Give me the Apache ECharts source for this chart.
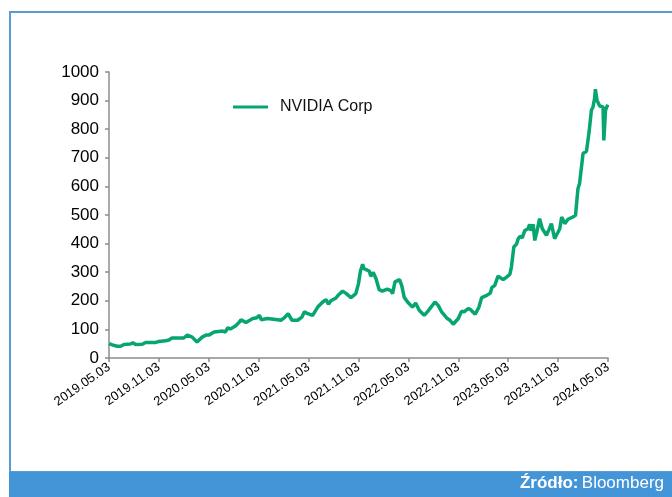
<!DOCTYPE html>
<html>
<head>
<meta charset="utf-8">
<script src="https://cdn.jsdelivr.net/npm/echarts@6/dist/echarts.min.js"></script>
<style>
html,body{margin:0;padding:0;background:#fff;}
#chart{width:672px;height:497px;}
</style>
</head>
<body>
<div id="chart"></div>
<script>
// ---- data ----
var seriesName = 'NVIDIA Corp';
var startDate = '2019-05-03';
var dates = [
 '2019-05-03','2019-05-18','2019-06-03','2019-06-15','2019-06-27','2019-07-21','2019-07-30','2019-08-09','2019-09-03','2019-09-15',
 '2019-10-03','2019-10-21','2019-11-03','2019-11-27','2019-12-09','2019-12-21','2020-01-12','2020-02-03','2020-02-15','2020-03-03',
 '2020-03-21','2020-04-09','2020-04-23','2020-05-03','2020-05-23','2020-06-23','2020-07-03','2020-07-12','2020-07-21','2020-08-12',
 '2020-08-24','2020-08-30','2020-09-17','2020-10-12','2020-10-27','2020-11-06','2020-11-12','2020-12-04','2020-12-09','2021-01-12',
 '2021-01-24','2021-02-06','2021-02-18','2021-03-03','2021-03-24','2021-04-09','2021-04-18','2021-04-30','2021-05-18','2021-06-06',
 '2021-06-24','2021-07-06','2021-07-15','2021-07-24','2021-08-12','2021-08-24','2021-09-06','2021-09-18','2021-10-06','2021-10-24',
 '2021-11-03','2021-11-10','2021-11-18','2021-11-22','2021-12-12','2021-12-18','2021-12-27','2022-01-06','2022-01-18','2022-01-30',
 '2022-02-16','2022-02-28','2022-03-06','2022-03-15','2022-04-01','2022-04-09','2022-04-18','2022-04-30','2022-05-18','2022-05-30',
 '2022-06-12','2022-06-18','2022-06-30','2022-07-14','2022-07-21','2022-08-09','2022-08-21','2022-09-03','2022-09-21','2022-10-03',
 '2022-10-15','2022-11-03','2022-11-15','2022-11-24','2022-12-09','2022-12-18','2023-01-04','2023-01-18','2023-01-28','2023-02-15',
 '2023-02-27','2023-03-04','2023-03-15','2023-03-27','2023-04-15','2023-04-27','2023-05-09','2023-05-15','2023-05-24','2023-06-03',
 '2023-06-09','2023-06-15','2023-06-24','2023-07-03','2023-07-15','2023-07-21','2023-07-26','2023-08-03','2023-08-09','2023-08-18',
 '2023-08-27','2023-09-06','2023-09-21','2023-09-30','2023-10-09','2023-10-21','2023-10-27','2023-11-09','2023-11-16','2023-11-27',
 '2023-12-09','2023-12-27','2024-01-06','2024-01-15','2024-01-21','2024-02-03','2024-02-15','2024-02-24','2024-03-03','2024-03-09',
 '2024-03-15','2024-03-18','2024-03-24','2024-04-03','2024-04-15','2024-04-18','2024-04-24','2024-05-02'
];
var prices = [
 50,45,41,41,47,49,53,47,48,54,
 54,54,58,60,63,70,70,70,80,73,
 56,73,80,80,91,94,91,106,101,114,
 126,134,124,138,141,149,134,138,141,134,
 132,141,155,132,132,143,162,155,149,178,
 196,204,188,200,210,223,234,226,211,225,
 260,304,328,313,304,286,299,278,239,234,
 241,236,225,266,274,253,212,196,178,192,
 167,172,149,164,169,196,184,161,140,132,
 118,138,164,161,173,169,153,178,211,219,
 227,246,254,286,274,283,292,318,388,398,
 417,425,421,446,452,467,445,467,411,446,
 487,452,429,449,470,417,411,452,493,470,
 485,493,499,592,610,715,723,790,866,878,
 907,940,901,881,878,761,866,886
];
var yTicks = [0,100,200,300,400,500,600,700,800,900,1000];
var xTickLabels = ['2019.05.03','2019.11.03','2020.05.03','2020.11.03','2021.05.03','2021.11.03','2022.05.03','2022.11.03','2023.05.03','2023.11.03','2024.05.03'];

// ---- build ----
function monthsFromStart(s){
  var p = s.split('-').map(Number), b = startDate.split('-').map(Number);
  var dim = new Date(p[0], p[1], 0).getDate();
  return (p[0]-b[0])*12 + (p[1]-b[1]) + (p[2]-b[2])/dim;
}
var lineData = dates.map(function(d,i){ return [monthsFromStart(d), prices[i]]; });

var chart = echarts.init(document.getElementById('chart'), null, {renderer:'canvas'});
var green = '#06a66e';
var axisGrey = '#8c8c8c';
var font = 'Liberation Sans, Arial, sans-serif';
chart.setOption({
  backgroundColor: '#ffffff',
  animation: false,
  grid: {left: 109, right: 64, top: 72, bottom: 139},
  legend: {
    data: [seriesName],
    left: 233, top: 98, padding: 0,
    icon: 'rect', itemWidth: 35, itemHeight: 3,
    textStyle: {fontFamily: font, fontSize: 16, color: '#111', lineHeight: 18, padding: [0,0,0,7]}
  },
  xAxis: {
    type: 'value', min: 0, max: 60, interval: 6,
    splitLine: {show: false},
    axisLine: {lineStyle: {color: axisGrey, width: 1.5}},
    axisTick: {show: true, length: 4, lineStyle: {color: axisGrey, width: 1.5}},
    axisLabel: {
      rotate: 35, margin: 8, color: '#000',
      fontFamily: font, fontSize: 13,
      formatter: function(v){ return xTickLabels[Math.round(v/6)] || ''; }
    }
  },
  yAxis: {
    type: 'value', min: yTicks[0], max: yTicks[yTicks.length-1], interval: 100,
    splitLine: {show: false},
    axisLine: {show: true, lineStyle: {color: axisGrey, width: 1.5}},
    axisTick: {show: true, length: 4, lineStyle: {color: axisGrey, width: 1.5}},
    axisLabel: {margin: 10, color: '#000', fontFamily: font, fontSize: 17,
      formatter: function(v){ return String(v); }}
  },
  series: [{
    name: seriesName, type: 'line', data: lineData,
    showSymbol: false, symbol: 'none',
    lineStyle: {color: green, width: 3.5},
    itemStyle: {color: green}
  }],
  graphic: [
    {type: 'rect', z: 0, shape: {x: 10, y: 12, width: 700, height: 460},
     style: {fill: 'none', stroke: '#5b9bd5', lineWidth: 2}},
    {type: 'rect', z: 1, shape: {x: 9, y: 472, width: 663, height: 25},
     style: {fill: '#4395d8'}},
    {type: 'text', z: 2, right: 8, top: 475,
     style: {
       text: '{b|Źródło:} {n|Bloomberg}',
       rich: {
         b: {fontFamily: font, fontSize: 17, fontWeight: 'bold', fill: '#fff'},
         n: {fontFamily: font, fontSize: 17, fill: '#fff'}
       }
     }}
  ]
});
</script>
</body>
</html>
